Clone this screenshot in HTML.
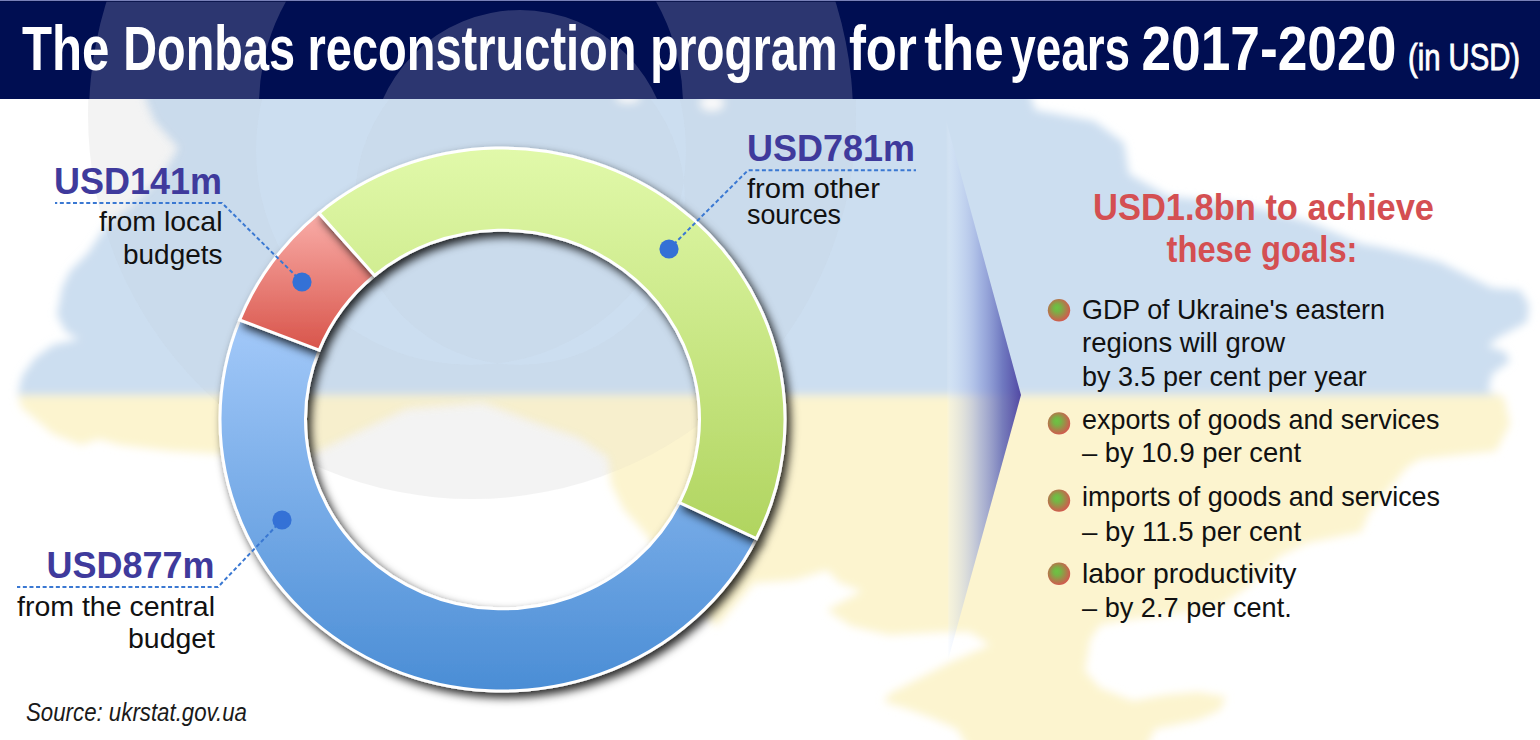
<!DOCTYPE html>
<html><head><meta charset="utf-8"><style>
html,body{margin:0;padding:0;background:#fff;}
#c{position:relative;width:1540px;height:740px;overflow:hidden;}
svg{display:block;}
text{font-family:"Liberation Sans",sans-serif;}
</style></head><body><div id="c">
<svg width="1540" height="740" viewBox="0 0 1540 740">
<defs>
<filter id="blur" x="-5%" y="-5%" width="110%" height="110%"><feGaussianBlur stdDeviation="4.5"/></filter>
<filter id="shadow" x="-10%" y="-10%" width="125%" height="125%"><feDropShadow dx="4" dy="5" stdDeviation="5" flood-color="#000" flood-opacity="0.85"/></filter>
<clipPath id="top"><rect x="0" y="0" width="1540" height="395"/></clipPath>
<clipPath id="bot"><rect x="0" y="395" width="1540" height="400"/></clipPath>
<mask id="ovm" maskUnits="userSpaceOnUse" x="0" y="0" width="1540" height="740"><rect width="1540" height="740" fill="#fff"/><g filter="url(#blur)"><path d="M145,60 L145,99 L154,121 L178,148 L160,178 L132,205 L105,227 L88,253 L70,271 L62,288 L57,315 L66,332 L79,339 L53,345 L35,358 L22,376 L18,394 L21,407 L53,434 L81,445 L99,439 L120,445 L171,451 L221,454 L300,462 L319,451 L365,429 L407,409 L482,403 L507,412 L533,422 L579,438 L608,458 L611,484 L624,510 L644,532 L680,580 L716,627 L754,583 L795,580 L827,570 L840,583 L862,591 L827,610 L851,626 L889,635 L943,632 L970,632 L990,645 L951,662 L916,680 L889,694 L884,702 L905,708 L932,718 L957,729 L975,760 L1140,760 L1155,729 L1198,720 L1220,710 L1226,697 L1198,692 L1165,695 L1133,701 L1100,688 L1085,671 L1090,640 L1100,625 L1133,619 L1168,615 L1220,606 L1250,585 L1280,556 L1307,543 L1361,532 L1369,513 L1407,467 L1420,459 L1496,451 L1510,424 L1504,397 L1488,391 L1492,374 L1510,361 L1505,352 L1488,346 L1499,337 L1527,322 L1529,305 L1520,290 L1492,288 L1466,275 L1440,262 L1406,253 L1380,247 L1362,244 L1309,222 L1247,205 L1168,196 L1129,174 L1124,143 L1094,121 L1035,110 L1020,60 Z" fill="#777"/></g></mask>
<clipPath id="hdr"><rect x="0" y="0" width="1540" height="99"/></clipPath>
<clipPath id="body"><rect x="0" y="99" width="1540" height="700"/></clipPath>
<linearGradient id="gGreen" gradientUnits="userSpaceOnUse" x1="0" y1="148" x2="0" y2="540"><stop offset="0" stop-color="#e1f9aa"/><stop offset="1" stop-color="#b0d45f"/></linearGradient>
<linearGradient id="gRed" gradientUnits="userSpaceOnUse" x1="0" y1="215" x2="0" y2="350"><stop offset="0" stop-color="#f9aca7"/><stop offset="1" stop-color="#d8544a"/></linearGradient>
<linearGradient id="gBlue" gradientUnits="userSpaceOnUse" x1="0" y1="320" x2="0" y2="692"><stop offset="0" stop-color="#a3c9f9"/><stop offset="1" stop-color="#4a8dd5"/></linearGradient>
<linearGradient id="chev" gradientUnits="userSpaceOnUse" x1="946" y1="0" x2="1021" y2="0">
<stop offset="0" stop-color="#ffffff" stop-opacity="0"/><stop offset="0.05" stop-color="#e0ecff" stop-opacity="0.25"/><stop offset="0.2" stop-color="#b8c8f0" stop-opacity="0.35"/><stop offset="0.45" stop-color="#8898d8" stop-opacity="0.6"/><stop offset="0.75" stop-color="#6068b8" stop-opacity="0.85"/><stop offset="1" stop-color="#4a40a0" stop-opacity="0.95"/></linearGradient>
<radialGradient id="bul" fx="0.4" fy="0.38" cx="0.45" cy="0.45" r="0.55"><stop offset="0" stop-color="#6cc443"/><stop offset="0.3" stop-color="#76b445"/><stop offset="1" stop-color="#d15a4e"/></radialGradient>
</defs>
<rect width="1540" height="740" fill="#fff"/>
<g filter="url(#blur)">
<path d="M145,60 L145,99 L154,121 L178,148 L160,178 L132,205 L105,227 L88,253 L70,271 L62,288 L57,315 L66,332 L79,339 L53,345 L35,358 L22,376 L18,394 L21,407 L53,434 L81,445 L99,439 L120,445 L171,451 L221,454 L300,462 L319,451 L365,429 L407,409 L482,403 L507,412 L533,422 L579,438 L608,458 L611,484 L624,510 L644,532 L680,580 L716,627 L754,583 L795,580 L827,570 L840,583 L862,591 L827,610 L851,626 L889,635 L943,632 L970,632 L990,645 L951,662 L916,680 L889,694 L884,702 L905,708 L932,718 L957,729 L975,760 L1140,760 L1155,729 L1198,720 L1220,710 L1226,697 L1198,692 L1165,695 L1133,701 L1100,688 L1085,671 L1090,640 L1100,625 L1133,619 L1168,615 L1220,606 L1250,585 L1280,556 L1307,543 L1361,532 L1369,513 L1407,467 L1420,459 L1496,451 L1510,424 L1504,397 L1488,391 L1492,374 L1510,361 L1505,352 L1488,346 L1499,337 L1527,322 L1529,305 L1520,290 L1492,288 L1466,275 L1440,262 L1406,253 L1380,247 L1362,244 L1309,222 L1247,205 L1168,196 L1129,174 L1124,143 L1094,121 L1035,110 L1020,60 Z" fill="#ccdef0" clip-path="url(#top)"/>
<g clip-path="url(#bot)"><path d="M145,60 L145,99 L154,121 L178,148 L160,178 L132,205 L105,227 L88,253 L70,271 L62,288 L57,315 L66,332 L79,339 L53,345 L35,358 L22,376 L18,394 L21,407 L53,434 L81,445 L99,439 L120,445 L171,451 L221,454 L300,462 L319,451 L365,429 L407,409 L482,403 L507,412 L533,422 L579,438 L608,458 L611,484 L624,510 L644,532 L680,580 L716,627 L754,583 L795,580 L827,570 L840,583 L862,591 L827,610 L851,626 L889,635 L943,632 L970,632 L990,645 L951,662 L916,680 L889,694 L884,702 L905,708 L932,718 L957,729 L975,760 L1140,760 L1155,729 L1198,720 L1220,710 L1226,697 L1198,692 L1165,695 L1133,701 L1100,688 L1085,671 L1090,640 L1100,625 L1133,619 L1168,615 L1220,606 L1250,585 L1280,556 L1307,543 L1361,532 L1369,513 L1407,467 L1420,459 L1496,451 L1510,424 L1504,397 L1488,391 L1492,374 L1510,361 L1505,352 L1488,346 L1499,337 L1527,322 L1529,305 L1520,290 L1492,288 L1466,275 L1440,262 L1406,253 L1380,247 L1362,244 L1309,222 L1247,205 L1168,196 L1129,174 L1124,143 L1094,121 L1035,110 L1020,60 Z" fill="#fcf4cf"/></g>
<ellipse cx="712" cy="103" rx="12" ry="8" fill="#fff"/><ellipse cx="628" cy="98" rx="12" ry="5" fill="#fff"/>
</g>
<g clip-path="url(#body)"><path d="M88,115 a384,384 0 1 0 768,0 a384,384 0 1 0 -768,0 Z M256,150 a215,215 0 1 0 430,0 a215,215 0 1 0 -430,0 Z M355,200 a165,165 0 1 0 330,0 a165,165 0 1 0 -330,0 Z" fill-rule="evenodd" fill="#b4b4b4" fill-opacity="0.16" mask="url(#ovm)"/></g>
<rect x="0" y="0" width="1540" height="99" fill="#000e52"/>
<path d="M89,116 a382,382 0 1 0 764,0 a382,382 0 1 0 -764,0 Z M259,105 a212,212 0 1 0 424,0 a212,212 0 1 0 -424,0 Z M370,160 a150,150 0 1 0 300,0 a150,150 0 1 0 -300,0 Z" fill-rule="evenodd" fill="#c8c8dc" fill-opacity="0.22" clip-path="url(#hdr)"/>
<rect x="0" y="0" width="1540" height="1" fill="#7880b8"/><rect x="0" y="1" width="1540" height="1" fill="#000a40" fill-opacity="0.7"/>
<path d="M946,120 L1021,395 L948,660 Z" fill="url(#chev)"/>
<path d="M756.41,538.52 A282.5,271.50 0 0 1 239.66,319.99 L319.21,350.11 A197.0,189.33 0 0 0 679.56,502.50 Z" fill="url(#gBlue)" stroke="#fff" stroke-width="3" filter="url(#shadow)"/>
<path d="M239.66,319.99 A282.5,271.50 0 0 1 319.03,213.05 L374.56,275.53 A197.0,189.33 0 0 0 319.21,350.11 Z" fill="url(#gRed)" stroke="#fff" stroke-width="3" filter="url(#shadow)"/>
<path d="M319.03,213.05 A282.5,271.50 0 0 1 756.41,538.52 L679.56,502.50 A197.0,189.33 0 0 0 374.56,275.53 Z" fill="url(#gGreen)" stroke="#fff" stroke-width="3" filter="url(#shadow)"/>
<polyline points="302,282 222,203 55,203" fill="none" stroke="#3a78d2" stroke-width="2" stroke-dasharray="4 2.6"/><polyline points="669,249 748,170.3 916,170.3" fill="none" stroke="#3a78d2" stroke-width="2" stroke-dasharray="4 2.6"/><polyline points="282,520 218,587 17,587" fill="none" stroke="#3a78d2" stroke-width="2" stroke-dasharray="4 2.6"/>
<circle cx="302" cy="282" r="9.6" fill="#3471d6"/><circle cx="669" cy="249" r="9.6" fill="#3471d6"/><circle cx="282" cy="520" r="9.6" fill="#3471d6"/>
<circle cx="1059" cy="310.3" r="11.2" fill="url(#bul)"/><circle cx="1059" cy="423.4" r="11.2" fill="url(#bul)"/><circle cx="1059" cy="500.6" r="11.2" fill="url(#bul)"/><circle cx="1059" cy="573.8" r="11.2" fill="url(#bul)"/>
<text x="21.9" y="69.5" font-size="63.5" font-weight="bold" font-style="normal" fill="#fff" text-anchor="start" textLength="87.4" lengthAdjust="spacingAndGlyphs">The</text><text x="123.2" y="69.5" font-size="63.5" font-weight="bold" font-style="normal" fill="#fff" text-anchor="start" textLength="171.8" lengthAdjust="spacingAndGlyphs">Donbas</text><text x="307.5" y="69.5" font-size="63.5" font-weight="bold" font-style="normal" fill="#fff" text-anchor="start" textLength="329" lengthAdjust="spacingAndGlyphs">reconstruction</text><text x="650.2" y="69.5" font-size="63.5" font-weight="bold" font-style="normal" fill="#fff" text-anchor="start" textLength="187.3" lengthAdjust="spacingAndGlyphs">program</text><text x="848.9" y="69.5" font-size="63.5" font-weight="bold" font-style="normal" fill="#fff" text-anchor="start" textLength="67.9" lengthAdjust="spacingAndGlyphs">for</text><text x="924.2" y="69.5" font-size="63.5" font-weight="bold" font-style="normal" fill="#fff" text-anchor="start" textLength="79.6" lengthAdjust="spacingAndGlyphs">the</text><text x="1010.2" y="69.5" font-size="63.5" font-weight="bold" font-style="normal" fill="#fff" text-anchor="start" textLength="119.9" lengthAdjust="spacingAndGlyphs">years</text><text x="1141.4" y="69.5" font-size="63.5" font-weight="bold" font-style="normal" fill="#fff" text-anchor="start" textLength="254.9" lengthAdjust="spacingAndGlyphs">2017-2020</text><text x="1408" y="69.5" font-size="36" font-weight="normal" font-style="normal" fill="#fff" text-anchor="start" textLength="112" lengthAdjust="spacingAndGlyphs" stroke="#fff" stroke-width="0.9">(in USD)</text><text x="54" y="194" font-size="37.8" font-weight="bold" font-style="normal" fill="#3f3a9c" text-anchor="start" textLength="168" lengthAdjust="spacingAndGlyphs">USD141m</text><text x="99" y="231.4" font-size="27.5" font-weight="normal" font-style="normal" fill="#111" text-anchor="start" textLength="123.5" lengthAdjust="spacingAndGlyphs">from local</text><text x="123" y="263.8" font-size="27.5" font-weight="normal" font-style="normal" fill="#111" text-anchor="start" textLength="99.5" lengthAdjust="spacingAndGlyphs">budgets</text><text x="747" y="160.6" font-size="37.8" font-weight="bold" font-style="normal" fill="#3f3a9c" text-anchor="start" textLength="168" lengthAdjust="spacingAndGlyphs">USD781m</text><text x="747" y="198.2" font-size="27.5" font-weight="normal" font-style="normal" fill="#111" text-anchor="start" textLength="133" lengthAdjust="spacingAndGlyphs">from other</text><text x="747" y="224" font-size="27.5" font-weight="normal" font-style="normal" fill="#111" text-anchor="start" textLength="94" lengthAdjust="spacingAndGlyphs">sources</text><text x="46.5" y="578" font-size="37.8" font-weight="bold" font-style="normal" fill="#3f3a9c" text-anchor="start" textLength="168" lengthAdjust="spacingAndGlyphs">USD877m</text><text x="17" y="616" font-size="27.5" font-weight="normal" font-style="normal" fill="#111" text-anchor="start" textLength="198" lengthAdjust="spacingAndGlyphs">from the central</text><text x="128" y="648.2" font-size="27.5" font-weight="normal" font-style="normal" fill="#111" text-anchor="start" textLength="87" lengthAdjust="spacingAndGlyphs">budget</text><text x="1093" y="219.6" font-size="36.6" font-weight="bold" font-style="normal" fill="#d44f52" text-anchor="start" textLength="341" lengthAdjust="spacingAndGlyphs">USD1.8bn to achieve</text><text x="1166.5" y="261.7" font-size="36.6" font-weight="bold" font-style="normal" fill="#d44f52" text-anchor="start" textLength="191" lengthAdjust="spacingAndGlyphs">these goals:</text><text x="1082" y="319" font-size="28" font-weight="normal" font-style="normal" fill="#111" text-anchor="start" textLength="303.0" lengthAdjust="spacingAndGlyphs">GDP of Ukraine&#39;s eastern</text><text x="1082" y="352" font-size="28" font-weight="normal" font-style="normal" fill="#111" text-anchor="start" textLength="203.1" lengthAdjust="spacingAndGlyphs">regions will grow</text><text x="1082" y="386" font-size="28" font-weight="normal" font-style="normal" fill="#111" text-anchor="start" textLength="284.8" lengthAdjust="spacingAndGlyphs">by 3.5 per cent per year</text><text x="1082" y="429" font-size="28" font-weight="normal" font-style="normal" fill="#111" text-anchor="start" textLength="357.5" lengthAdjust="spacingAndGlyphs">exports of goods and services</text><text x="1082" y="462" font-size="28" font-weight="normal" font-style="normal" fill="#111" text-anchor="start" textLength="219.1" lengthAdjust="spacingAndGlyphs">– by 10.9 per cent</text><text x="1082" y="506" font-size="28" font-weight="normal" font-style="normal" fill="#111" text-anchor="start" textLength="358.1" lengthAdjust="spacingAndGlyphs">imports of goods and services</text><text x="1082" y="541" font-size="28" font-weight="normal" font-style="normal" fill="#111" text-anchor="start" textLength="219.1" lengthAdjust="spacingAndGlyphs">– by 11.5 per cent</text><text x="1082" y="583" font-size="28" font-weight="normal" font-style="normal" fill="#111" text-anchor="start" textLength="214.5" lengthAdjust="spacingAndGlyphs">labor productivity</text><text x="1082" y="617" font-size="28" font-weight="normal" font-style="normal" fill="#111" text-anchor="start" textLength="209.8" lengthAdjust="spacingAndGlyphs">– by 2.7 per cent.</text><text x="26" y="720.9" font-size="25" font-weight="normal" font-style="italic" fill="#1a1a1a" text-anchor="start" textLength="221" lengthAdjust="spacingAndGlyphs">Source: ukrstat.gov.ua</text>
</svg></div></body></html>
